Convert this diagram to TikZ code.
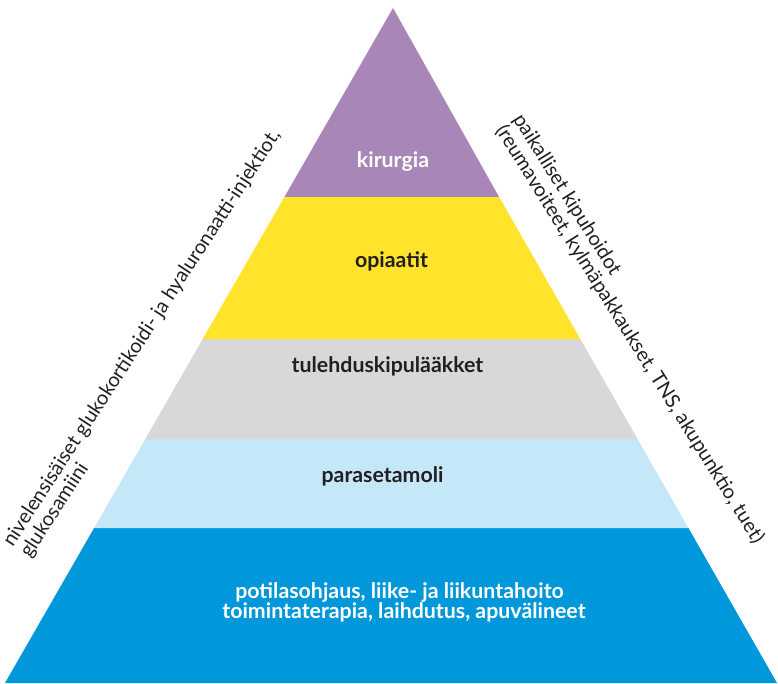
\documentclass[tikz,border=0pt]{standalone}
\usepackage{fontspec}
\setmainfont{Lato}
\usepackage{xcolor}
\definecolor{pyrPurple}{RGB}{168,134,184}
\definecolor{pyrYellow}{RGB}{255,228,43}
\definecolor{pyrGray}{RGB}{216,216,218}
\definecolor{pyrLightBlue}{RGB}{197,232,248}
\definecolor{pyrBlue}{RGB}{0,152,218}
\definecolor{pyrText}{RGB}{35,31,32}

\begin{document}
\begin{tikzpicture}[x=0.75pt,y=0.75pt,
    level/.style={font=\bfseries\fontsize{16}{15}\selectfont,text=pyrText,inner sep=0,anchor=base},
    side/.style={font=\fontsize{15}{15.5}\selectfont,text=pyrText,inner sep=0,align=left,anchor=base west}]
        \useasboundingbox (0,0) rectangle (778,683);
        % bands of the pyramid
        \fill[pyrBlue] (5,0) -- (777,0) -- (688.4,155) -- (94.1,155) -- cycle;
        \fill[pyrLightBlue] (94.1,155) -- (688.4,155) -- (637.5,244) -- (145.3,244) -- cycle;
        \fill[pyrGray] (145.3,244) -- (637.5,244) -- (580.3,344) -- (202.7,344) -- cycle;
        \fill[pyrYellow] (202.7,344) -- (580.3,344) -- (499.1,486) -- (284.4,486) -- cycle;
        \fill[pyrPurple] (284.4,486) -- (499.1,486) -- (393,675) -- cycle;
        % labels
        \node[level,text=white] (kirurgia) at (393,515) {kirurgia};
        \node[level] (opiaatit) at (391.5,416) {opiaatit};
        \node[level] (tulehdus) at (387.5,311) {tulehduskipulääkket};
        \node[level] (parasetamoli) at (382.5,201) {parasetamoli};
        \node[level,text=white] (ohjaus) at (399.5,85) {potilasohjaus, liike- ja liikuntahoito};
        \node[level,text=white] (terapia) at (404,65) {toimintaterapia, laihdutus, apuvälineet};
        % side texts (anchored at the baseline of the second line)
        \node[side,rotate=57] (injektiot) at (30,124)
            {nivelensisäiset glukokortikoidi- ja hyaluronaatti-injektiot,\\glukosamiini};
        \node[side,rotate=-58] (kipuhoidot) at (495,553)
            {paikalliset kipuhoidot\\(reumavoiteet, kylmäpakkaukset, TNS, akupunktio, tuet)};
\end{tikzpicture}
\end{document}
